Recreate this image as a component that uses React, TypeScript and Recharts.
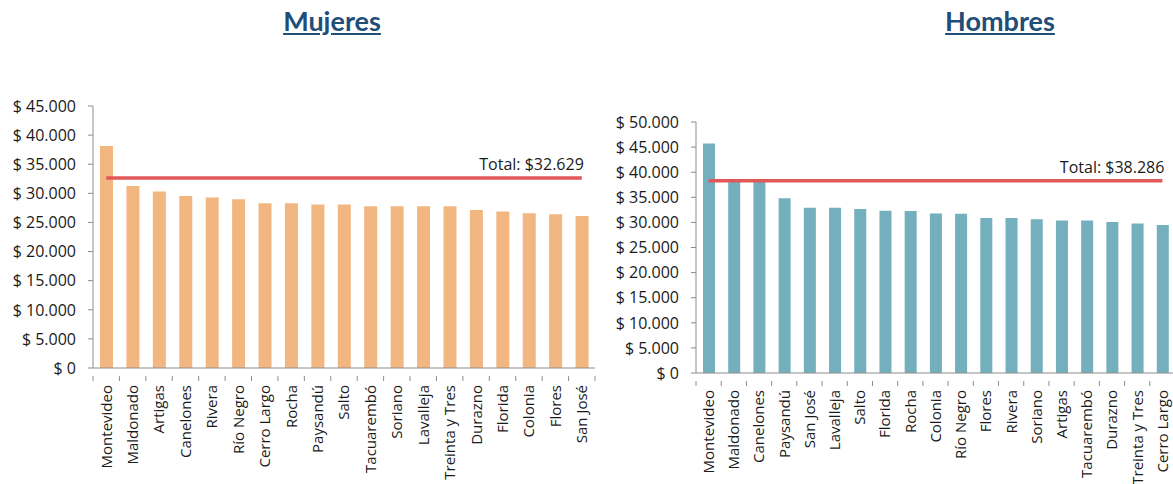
import React from 'react';
import { ComposedChart, Bar, Line, XAxis, YAxis } from 'recharts';

const mujeresDeptos = [
  'Montevideo', 'Maldonado', 'Artigas', 'Canelones', 'Rivera', 'Río Negro', 'Cerro Largo',
  'Rocha', 'Paysandú', 'Salto', 'Tacuarembó', 'Soriano', 'Lavalleja', 'Treinta y Tres',
  'Durazno', 'Florida', 'Colonia', 'Flores', 'San José',
];
const mujeresValores = [
  38150, 31250, 30300, 29550, 29300, 29000, 28300, 28300, 28100, 28100, 27800, 27800,
  27800, 27800, 27150, 26900, 26600, 26400, 26100,
];
const mujeresTotal = 32629;

const hombresDeptos = [
  'Montevideo', 'Maldonado', 'Canelones', 'Paysandú', 'San José', 'Lavalleja', 'Salto',
  'Florida', 'Rocha', 'Colonia', 'Río Negro', 'Flores', 'Rivera', 'Soriano', 'Artigas',
  'Tacuarembó', 'Durazno', 'Treinta y Tres', 'Cerro Largo',
];
const hombresValores = [
  45700, 38300, 38100, 34800, 32900, 32900, 32650, 32300, 32250, 31750, 31700, 30900,
  30900, 30650, 30400, 30400, 30100, 29800, 29500,
];
const hombresTotal = 38286;

const mujeresTicks = [0, 5000, 10000, 15000, 20000, 25000, 30000, 35000, 40000, 45000];
const hombresTicks = [0, 5000, 10000, 15000, 20000, 25000, 30000, 35000, 40000, 45000, 50000];

const FONT = '"Open Sans", Lato, sans-serif';
const TITLE_FONT = 'Lato, "Open Sans", sans-serif';
const TEXT = '#1a1a1a';
const AXIS = '#8c8c8c';

const fmtMiles = (v: number) => String(v).replace(/\B(?=(\d{3})+(?!\d))/g, '.');
const fmtPeso = (v: number) => `$ ${fmtMiles(v)}`;

const makeTick = (bw: number, count: number) => (props: any) => {
  const { x, y, payload, index } = props;
  return (
    <g transform={`translate(${x},${y})`}>
      <line x1={-bw / 2} y1={0} x2={-bw / 2} y2={5} stroke={AXIS} />
      {index === count - 1 && <line x1={bw / 2} y1={0} x2={bw / 2} y2={5} stroke={AXIS} />}
      <text
        transform="rotate(-90)"
        x={-9}
        y={0}
        dy="0.36em"
        textAnchor="end"
        fontSize={15}
        fontFamily={FONT}
        fill={TEXT}
      >
        {payload.value}
      </text>
    </g>
  );
};

const YTick = (props: any) => {
  const { x, y, payload } = props;
  return (
    <text x={x - 10} y={y} dy="0.36em" textAnchor="end" fontSize={16} fontFamily={FONT} fill={TEXT}>
      {fmtPeso(payload.value)}
    </text>
  );
};

const makeTotalLabel = (count: number, total: number) => (props: any) => {
  const { x, y, index } = props;
  if (index !== count - 1) return <g />;
  return (
    <text x={x + 2} y={y - 8} textAnchor="end" fontSize={16} fontFamily={FONT} fill={TEXT}>
      {`Total: $${fmtMiles(total)}`}
    </text>
  );
};

type PanelProps = {
  deptos: string[];
  valores: number[];
  total: number;
  ticks: number[];
  color: string;
  width: number;
  top: number;
  bottom: number;
  yWidth: number;
  right: number;
  barSize: number;
};

const Panel = ({ deptos, valores, total, ticks, color, width, top, bottom, yWidth, right, barSize }: PanelProps) => {
  const data = deptos.map((d, i) => ({ depto: d, valor: valores[i], total }));
  const bw = (width - yWidth - right) / deptos.length;
  return (
    <ComposedChart width={width} height={484} data={data} margin={{ top, right, bottom: 0, left: 0 }}>
      <XAxis
        dataKey="depto"
        interval={0}
        height={bottom}
        tickLine={false}
        axisLine={{ stroke: AXIS }}
        tick={makeTick(bw, deptos.length)}
      />
      <YAxis
        width={yWidth}
        domain={[0, ticks[ticks.length - 1]]}
        ticks={ticks}
        interval={0}
        axisLine={{ stroke: AXIS }}
        tickLine={{ stroke: AXIS }}
        tickSize={5}
        tick={<YTick />}
      />
      <Bar dataKey="valor" fill={color} barSize={barSize} isAnimationActive={false} />
      <Line
        dataKey="total"
        type="linear"
        stroke="#e05858"
        strokeWidth={3.5}
        dot={false}
        isAnimationActive={false}
        label={makeTotalLabel(deptos.length, total)}
      />
    </ComposedChart>
  );
};

const titleStyle: React.CSSProperties = {
  position: 'absolute',
  top: 4,
  width: 300,
  textAlign: 'center',
  fontFamily: TITLE_FONT,
  fontWeight: 'bold',
  fontSize: 27,
  color: '#1f4e79',
  textDecoration: 'underline',
};

export default function App() {
  return (
    <div style={{ position: 'absolute', left: 0, top: 0, width: 1173, height: 484, overflow: 'hidden', background: '#fff' }}>
      <div style={{ ...titleStyle, left: 182 }}>Mujeres</div>
      <div style={{ ...titleStyle, left: 850 }}>Hombres</div>
      <div style={{ position: 'absolute', left: 0, top: 0 }}>
        <Panel
          deptos={mujeresDeptos}
          valores={mujeresValores}
          total={mujeresTotal}
          ticks={mujeresTicks}
          color="#f2b680"
          width={600}
          top={106}
          bottom={116}
          yWidth={93}
          right={5}
          barSize={13}
        />
      </div>
      <div style={{ position: 'absolute', left: 600, top: 0 }}>
        <Panel
          deptos={hombresDeptos}
          valores={hombresValores}
          total={hombresTotal}
          ticks={hombresTicks}
          color="#73afbd"
          width={575}
          top={122}
          bottom={111}
          yWidth={96}
          right={0}
          barSize={12}
        />
      </div>
    </div>
  );
}
